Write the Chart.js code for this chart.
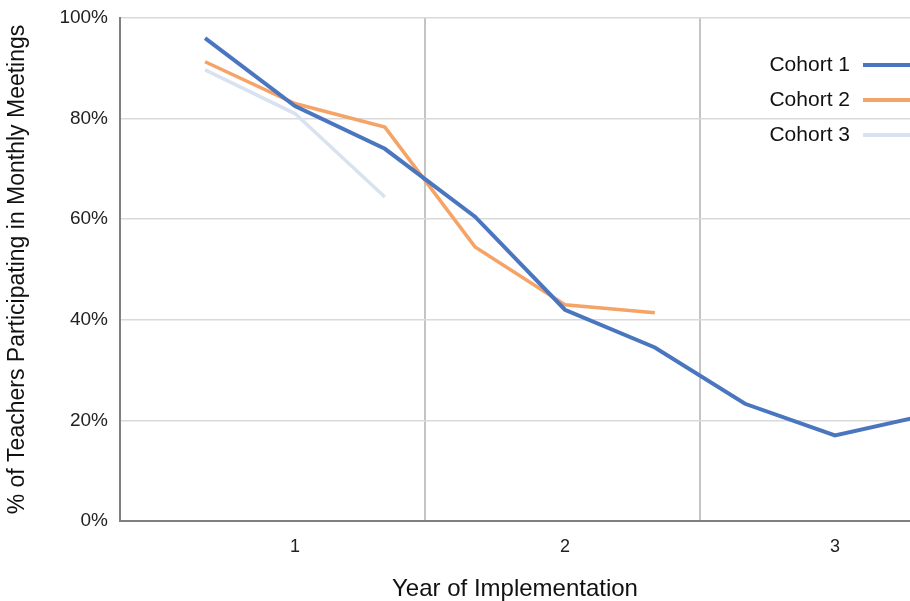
<!DOCTYPE html>
<html>
<head>
<meta charset="utf-8">
<script src="https://cdn.jsdelivr.net/npm/chart.js@4.4.1/dist/chart.umd.min.js"></script>
<style>
    html, body { margin: 0; padding: 0; background: #ffffff; }
    #wrap { width: 910px; height: 601px; }
</style>
</head>
<body>
<div id="wrap"><canvas id="line-chart" width="910" height="601"></canvas></div>
<script>
// position of each measurement along the year axis (3 per year)
const periods = [0.667, 1, 1.333, 1.667, 2, 2.333, 2.667, 3, 3.333];
const yearTicks = [1, 2, 3];
const yearBreaks = [1.48, 2.5];

const cohort1 = [96, 82.5, 74, 60.5, 42, 34.5, 23.3, 17, 21];
const cohort2 = [91.3, 83, 78.3, 54.5, 43, 41.4];
const cohort3 = [89.7, 81, 64.4];

const seriesNames = ["Cohort 1", "Cohort 2", "Cohort 3"];
const seriesColors = ["#4a76c0", "#f5a366", "#d8e2f0"];

function pts(values) {
    return values.map((v, i) => ({ x: periods[i], y: v }));
}

// legend drawn inside the plot, right side
const insideLegend = {
    id: "insideLegend",
    afterDraw(chart) {
        const c = chart.ctx;
        c.save();
        c.font = "21px 'Liberation Sans', Arial, sans-serif";
        c.textAlign = "right";
        c.textBaseline = "middle";
        seriesNames.forEach((name, i) => {
            const y = 65 + i * 35;
            c.fillStyle = "#111";
            c.fillText(name, 850, y);
            c.strokeStyle = seriesColors[i];
            c.lineWidth = 4;
            c.beginPath();
            c.moveTo(863, y);
            c.lineTo(912, y);
            c.stroke();
        });
        c.restore();
    }
};

const ctx = document.getElementById("line-chart").getContext("2d");
const myChart = new Chart(ctx, {
    type: "line",
    data: {
        datasets: [
            { label: seriesNames[0], data: pts(cohort1), borderColor: seriesColors[0], borderWidth: 4 },
            { label: seriesNames[1], data: pts(cohort2), borderColor: seriesColors[1], borderWidth: 3.5 },
            { label: seriesNames[2], data: pts(cohort3), borderColor: seriesColors[2], borderWidth: 3.5 }
        ]
    },
    options: {
        responsive: false,
        animation: false,
        elements: { point: { radius: 0 }, line: { tension: 0, fill: false } },
        layout: { padding: { top: 18, right: 0, left: 0, bottom: 0 } },
        plugins: { legend: { display: false }, tooltip: { enabled: false } },
        scales: {
            x: {
                type: "linear",
                min: 0.352,
                max: 3.278,
                afterBuildTicks(scale) {
                    scale.ticks = yearTicks.concat(yearBreaks).sort().map(v => ({ value: v }));
                },
                afterFit(scale) { scale.height = 80; },
                ticks: {
                    color: "#222",
                    font: { family: "'Liberation Sans', Arial", size: 18 },
                    padding: 15,
                    maxRotation: 0,
                    autoSkip: false,
                    callback: v => (yearTicks.includes(v) ? String(v) : "")
                },
                grid: {
                    drawTicks: false,
                    lineWidth: 2,
                    color: c => (c.tick && yearBreaks.includes(c.tick.value) ? "#c4c4c4" : "rgba(0,0,0,0)")
                },
                border: { color: "#7f7f7f", width: 2 },
                title: {
                    display: true,
                    text: "Year of Implementation",
                    color: "#111",
                    font: { family: "'Liberation Sans', Arial", size: 24, lineHeight: 1 },
                    padding: { top: 0, bottom: 0 }
                }
            },
            y: {
                min: 0,
                max: 100,
                afterFit(scale) {
                    scale.width = 120;
                    scale.paddingTop = 0;
                    scale.paddingBottom = 0;
                },
                ticks: {
                    stepSize: 20,
                    color: "#222",
                    font: { family: "'Liberation Sans', Arial", size: 19 },
                    padding: 12,
                    callback: v => v + "%"
                },
                grid: { drawTicks: false, color: "#d9d9d9", lineWidth: 1.5 },
                border: { color: "#7f7f7f", width: 2 },
                title: {
                    display: true,
                    text: "% of Teachers Participating in Monthly Meetings",
                    color: "#111",
                    font: { family: "'Liberation Sans', Arial", size: 23 },
                    padding: { top: 4, bottom: 0 }
                }
            }
        }
    },
    plugins: [insideLegend]
});
</script>
</body>
</html>
